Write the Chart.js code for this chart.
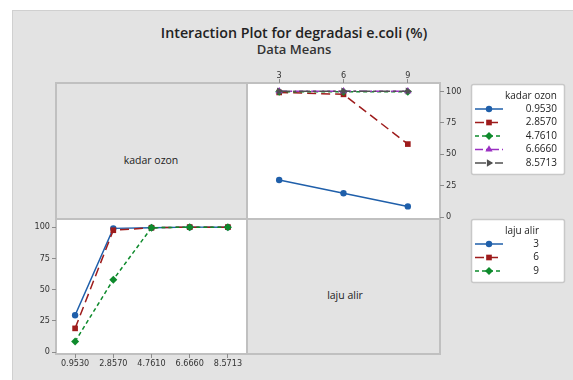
<!DOCTYPE html>
<html>
<head>
<meta charset="utf-8">
<script src="https://cdn.jsdelivr.net/npm/chart.js@4.4.1/dist/chart.umd.min.js"></script>
<style>
  html, body { margin: 0; padding: 0; background: #fff; }
  body { width: 573px; height: 380px; position: relative; overflow: hidden; font-family: "Open Sans", sans-serif; color: #222; }
  .panel { position: absolute; left: 12px; top: 10px; width: 561px; height: 370px; background: #e3e3e3; border-left: 1px solid #d0d0d0; border-top: 1px solid #d0d0d0; }
  .plotbg { position: absolute; background: #fff; }
  .line { position: absolute; background: #c0c0c0; }
  .title { position: absolute; left: 12px; width: 564px; text-align: center; white-space: nowrap; }
  .cellLabel { position: absolute; font-size: 10.5px; text-align: center; white-space: nowrap; }
  canvas { position: absolute; left: 0; top: 0; }
</style>
</head>
<body>
<div class="panel"></div>
<div class="plotbg" style="left:247px; top:83px; width:193px; height:136px;"></div>
<div class="plotbg" style="left:56px; top:219px; width:191px; height:135px;"></div>

<div class="line" style="left:55px; top:82px; width:386px; height:2px;"></div>
<div class="line" style="left:55px; top:353px; width:386px; height:2px;"></div>
<div class="line" style="left:55px; top:82px; width:2px; height:273px;"></div>
<div class="line" style="left:439px; top:82px; width:2px; height:273px;"></div>
<div class="line" style="left:246px; top:82px; width:2px; height:273px;"></div>
<div class="line" style="left:55px; top:218px; width:386px; height:2px;"></div>

<div class="title" style="top:22px; font-size:15px; font-weight:600; line-height:20px; transform:scaleX(0.95);">Interaction Plot for degradasi e.coli (%)</div>
<div class="title" style="top:42px; font-size:13px; font-weight:600; line-height:15px; color:#333;">Data Means</div>

<div class="cellLabel" style="left:96px; width:110px; top:153px;">kadar ozon</div>
<div class="cellLabel" style="left:290px; width:110px; top:288px;">laju alir</div>

<canvas id="topRight" width="573" height="380"></canvas>
<canvas id="bottomLeft" width="573" height="380"></canvas>

<script>
// factor levels
const ozonLevels = ['0.9530', '2.8570', '4.7610', '6.6660', '8.5713'];
const alirLevels = ['3', '6', '9'];

// mean degradasi e.coli (%) for each kadar ozon, one list per laju alir
const meanAlir3 = [29.5, 99, 99.5, 100, 100];
const meanAlir6 = [19, 97.5, 99.5, 100, 100];
const meanAlir9 = [8.5, 58, 99.5, 100, 100];

const yTicks = [0, 25, 50, 75, 100];

const seriesStyles = [
  { color: '#1f5faa', dash: [], point: 'circle', radius: 3.2, rot: 0 },
  { color: '#9e1c1c', dash: [9, 5], point: 'rect', radius: 4, rot: 0 },
  { color: '#0e8a2c', dash: [4, 3], point: 'rectRot', radius: 4, rot: 0 },
  { color: '#9a30c2', dash: [8, 3, 2, 3], point: 'triangle', radius: 4.2, rot: 0 },
  { color: '#505050', dash: [11, 3, 3, 3], point: 'triangle', radius: 4.2, rot: 90 }
];

const tickFont = { family: '"DejaVu Sans Condensed", "DejaVu Sans", sans-serif', size: 9 };
const tickColor = '#333';
const tickMark = '#8c8c8c';

function makeDataset(label, data, i, n) {
  const s = seriesStyles[i];
  return {
    label: label,
    data: data,
    borderColor: s.color,
    backgroundColor: s.color,
    pointBackgroundColor: s.color,
    pointBorderColor: s.color,
    pointBorderWidth: 0,
    borderWidth: 1.5,
    borderDash: s.dash,
    pointStyle: s.point,
    pointRadius: s.radius,
    pointRotation: s.rot,
    tension: 0,
    fill: false,
    order: n - i
  };
}

function setTicks(scale) {
  scale.ticks = yTicks.map(v => ({ value: v }));
}

function drawMarker(ctx, style, radius, rot, x, y) {
  if (Chart.helpers && Chart.helpers.drawPoint) {
    Chart.helpers.drawPoint(ctx, { pointStyle: style, rotation: rot, radius: radius, borderWidth: 0 }, x, y);
    return;
  }
  ctx.beginPath();
  ctx.arc(x, y, radius, 0, Math.PI * 2);
  ctx.fill();
}

// legend box drawn at the right of the panel, like Minitab does
const sideLegend = {
  id: 'sideLegend',
  afterDraw(chart, args, opts) {
    const ctx = chart.ctx;
    ctx.save();
    ctx.fillStyle = '#fff';
    ctx.strokeStyle = '#c8c8c8';
    ctx.lineWidth = 1.5;
    ctx.beginPath();
    ctx.roundRect(opts.x + 0.5, opts.y + 0.5, opts.w, opts.h, 2);
    ctx.fill();
    ctx.stroke();

    ctx.font = '10px "Open Sans"';
    ctx.textAlign = 'right';
    ctx.textBaseline = 'middle';
    ctx.fillStyle = '#222';
    ctx.fillText(opts.title, opts.textRight, opts.y + 12);

    const items = chart.data.datasets;
    items.forEach((ds, i) => {
      const yy = opts.y + 25 + i * 13.5;
      ctx.strokeStyle = ds.borderColor;
      ctx.lineWidth = 1.5;
      ctx.setLineDash(ds.borderDash);
      ctx.beginPath();
      ctx.moveTo(opts.x + 4, yy);
      ctx.lineTo(opts.x + 32, yy);
      ctx.stroke();
      ctx.setLineDash([]);
      ctx.fillStyle = ds.pointBackgroundColor;
      drawMarker(ctx, ds.pointStyle, ds.pointRadius, ds.pointRotation, opts.x + 18, yy);
      ctx.fillStyle = '#222';
      ctx.fillText(ds.label, opts.textRight, yy);
    });
    ctx.restore();
  }
};

function baseOptions(xPos, yPos, padding, legend, xPad) {
  return {
    responsive: false,
    animation: false,
    events: [],
    layout: { padding: padding },
    plugins: {
      legend: { display: false },
      tooltip: { enabled: false },
      sideLegend: legend
    },
    scales: {
      x: {
        type: 'category',
        position: xPos,
        offset: true,
        grid: { drawOnChartArea: false, drawTicks: true, tickLength: 4, color: tickMark, offset: false },
        border: { display: false },
        ticks: { font: tickFont, color: tickColor, padding: xPad, maxRotation: 0, autoSkip: false },
        afterFit: s => { s.height = 22; }
      },
      y: {
        type: 'linear',
        position: yPos,
        min: -1.5,
        max: 106.5,
        afterBuildTicks: setTicks,
        grid: { drawOnChartArea: false, drawTicks: true, tickLength: 4, color: tickMark },
        border: { display: false },
        ticks: { font: tickFont, color: tickColor, padding: 2 },
        afterFit: s => { s.width = 30; }
      }
    }
  };
}

// top right: response against laju alir, one line per kadar ozon
const byAlir = [meanAlir3, meanAlir6, meanAlir9];
new Chart(document.getElementById('topRight'), {
  type: 'line',
  data: {
    labels: alirLevels,
    datasets: ozonLevels.map((lvl, i) =>
      makeDataset(lvl, byAlir.map(col => col[i]), i, ozonLevels.length))
  },
  options: baseOptions('top', 'right',
    { left: 247, top: 61, right: 103, bottom: 161 },
    { x: 471, y: 84, w: 93, h: 90, title: 'kadar ozon', textRight: 557 }, -2),
  plugins: [sideLegend]
});

// bottom left: response against kadar ozon, one line per laju alir
new Chart(document.getElementById('bottomLeft'), {
  type: 'line',
  data: {
    labels: ozonLevels,
    datasets: alirLevels.map((lvl, j) =>
      makeDataset(lvl, byAlir[j], j, alirLevels.length))
  },
  options: baseOptions('bottom', 'left',
    { left: 26, top: 219, right: 326, bottom: 4 },
    { x: 471, y: 219, w: 93, h: 63, title: 'laju alir', textRight: 539 }, 0),
  plugins: [sideLegend]
});
</script>
</body>
</html>
